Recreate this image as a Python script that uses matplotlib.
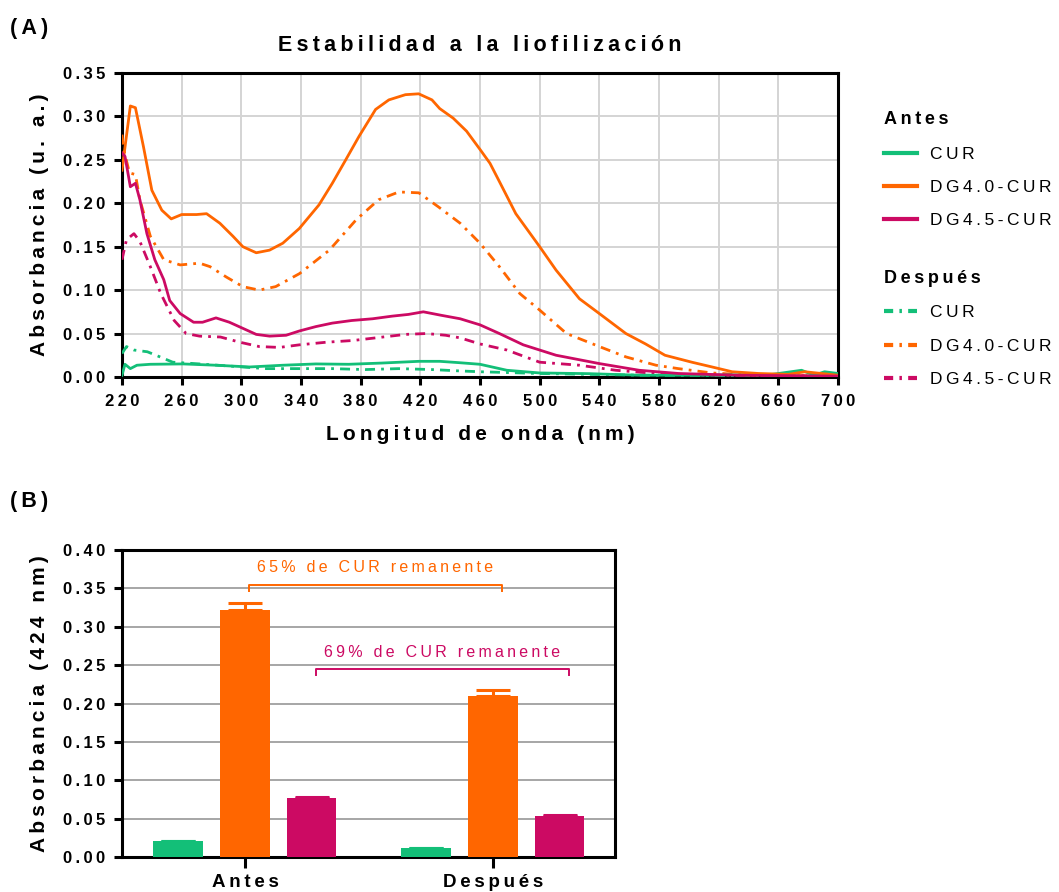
import numpy as np
import matplotlib
matplotlib.use("Agg")
import matplotlib.pyplot as plt
from matplotlib.lines import Line2D

plt.rcParams['font.family'] = ['Liberation Sans', 'DejaVu Sans']

# ---- spectra (A) ----
cur_antes_x = [220, 222, 225.6, 230, 239, 261, 283, 305.6, 327.8, 350, 372, 394, 419, 433, 445.6,
               460, 478, 500, 533, 567, 611, 656, 675.6, 684, 691, 700]
cur_antes_y = [0.002, 0.0146, 0.0096, 0.0135, 0.0146, 0.015, 0.0135, 0.0115, 0.0135, 0.015, 0.0146,
               0.016, 0.018, 0.018, 0.0165, 0.0146, 0.0077, 0.0046, 0.0038, 0.002, 0.002, 0.003,
               0.0077, 0.002, 0.006, 0.004]

dg40_antes_x = [220, 225.6, 229, 234.4, 240, 246.7, 253, 260, 270, 276.7, 285.6, 294.4, 301, 310,
                318.9, 327.8, 338.9, 352, 361, 370, 378.9, 390, 398.9, 410, 418.9, 427.8, 433,
                442, 451, 460, 466.7, 473, 484, 500, 511, 526.7, 540, 557.8, 571, 584, 602,
                615.6, 629, 646.7, 666.7, 677.8, 700]
dg40_antes_y = [0.238, 0.312, 0.310, 0.265, 0.215, 0.192, 0.182, 0.187, 0.187, 0.188, 0.177, 0.162,
                0.150, 0.143, 0.146, 0.154, 0.171, 0.198, 0.223, 0.250, 0.277, 0.308, 0.319, 0.325,
                0.326, 0.319, 0.309, 0.298, 0.283, 0.262, 0.246, 0.225, 0.188, 0.150, 0.123, 0.090,
                0.073, 0.050, 0.038, 0.025, 0.017, 0.0115, 0.006, 0.004, 0.003, 0.006, 0.002]

dg45_antes_x = [220, 222, 225.6, 229, 232, 236.7, 242, 248, 252, 259, 268, 274, 283, 292, 301, 310,
                319, 330, 339, 350, 361, 374, 388, 401, 412, 422, 434, 446.7, 460, 473, 489, 511,
                540, 566.7, 593, 633, 700]
dg45_antes_y = [0.258, 0.254, 0.219, 0.223, 0.204, 0.165, 0.135, 0.112, 0.088, 0.073, 0.063, 0.063,
                0.068, 0.063, 0.056, 0.049, 0.047, 0.048, 0.053, 0.058, 0.062, 0.065, 0.067, 0.070,
                0.072, 0.075, 0.071, 0.067, 0.060, 0.050, 0.037, 0.025, 0.0154, 0.0077, 0.004,
                0.002, 0.001]

cur_desp_x = [220, 223, 228, 237, 245.6, 254, 272, 294, 316.7, 339, 361, 383, 405.6, 428, 445.6,
              460, 500, 567, 700]
cur_desp_y = [0.027, 0.035, 0.031, 0.029, 0.023, 0.017, 0.015, 0.0123, 0.0096, 0.0096, 0.0096,
              0.0085, 0.0096, 0.0085, 0.007, 0.006, 0.004, 0.002, 0.001]

dg40_desp_x = [220, 221, 225, 229, 232, 239, 248, 259, 272, 279, 290, 301, 312, 323, 339, 359, 377,
               392, 405.6, 419, 432, 446.7, 460, 473, 486.7, 500, 518, 540, 558, 578, 593, 615.6,
               644, 700]
dg40_desp_y = [0.279, 0.263, 0.235, 0.233, 0.204, 0.162, 0.135, 0.129, 0.131, 0.127, 0.115, 0.104,
               0.100, 0.104, 0.119, 0.146, 0.181, 0.204, 0.213, 0.212, 0.196, 0.177, 0.154, 0.127,
               0.096, 0.077, 0.050, 0.035, 0.023, 0.0135, 0.0096, 0.0046, 0.002, 0.001]

dg45_desp_x = [220, 223, 228, 232, 239, 246, 255, 263, 272, 286, 299, 312, 325.6, 339, 357, 375,
               395, 410, 424, 437, 446.7, 460, 478, 500, 526.7, 551, 578, 611, 700]
dg45_desp_y = [0.135, 0.158, 0.165, 0.156, 0.127, 0.096, 0.065, 0.050, 0.047, 0.046, 0.040, 0.035,
               0.034, 0.037, 0.040, 0.042, 0.046, 0.049, 0.050, 0.048, 0.045, 0.038, 0.031, 0.017,
               0.0135, 0.0077, 0.004, 0.002, 0.001]

series_names = ["CUR", "DG4.0-CUR", "DG4.5-CUR"]
colors = ["#13BF78", "#FF6600", "#CC0A63"]

# ---- bars (B) ----
groups = ["Antes", "Después"]
bar_vals = {"CUR": [0.021, 0.012], "DG4.0-CUR": [0.322, 0.210], "DG4.5-CUR": [0.077, 0.054]}
bar_errs = {"CUR": [0.0, 0.0], "DG4.0-CUR": [0.009, 0.008], "DG4.5-CUR": [0.001, 0.001]}
notes = ["65% de CUR remanente", "69% de CUR remanente"]
note_y = [0.355, 0.245]


def sp(s):
    return "\u2009".join(s)


dashdot = (0, (3.6, 2.2, 1.0, 2.2))

fig = plt.figure(figsize=(10.59, 8.92), dpi=100)

# ===== panel A =====
ax = fig.add_axes([0.1152, 0.5774, 0.6761, 0.3408])
antes = [(cur_antes_x, cur_antes_y), (dg40_antes_x, dg40_antes_y), (dg45_antes_x, dg45_antes_y)]
desp = [(cur_desp_x, cur_desp_y), (dg40_desp_x, dg40_desp_y), (dg45_desp_x, dg45_desp_y)]
for (x, y), c in zip(desp, colors):
    ax.plot(x, y, color=c, lw=2.0, ls=dashdot, zorder=3)
for (x, y), c in zip(antes, colors):
    ax.plot(x, y, color=c, lw=2.0, zorder=4)

ax.set_xlim(220, 700)
ax.set_ylim(0, 0.35)
xt = np.arange(220, 701, 40)
yt = np.arange(0, 0.351, 0.05)
ax.set_xticks(xt)
ax.set_xticklabels([sp(str(v)) for v in xt], fontsize=12, fontweight="bold")
ax.set_yticks(yt)
ax.set_yticklabels([sp(f"{v:.2f}") for v in yt], fontsize=12, fontweight="bold")
ax.grid(True, color="#D4D4D4", lw=1.4, zorder=0)
ax.set_axisbelow(True)
for s in ax.spines.values():
    s.set_linewidth(2.2)
ax.tick_params(width=2.2, length=6, pad=6)
ax.set_xlabel(sp("Longitud de onda (nm)"), fontsize=15, fontweight="bold", labelpad=12)
ax.set_ylabel(sp("Absorbancia (u. a.)"), fontsize=15, fontweight="bold", labelpad=10)
ax.set_title(sp("Estabilidad a la liofilización"), fontsize=15.5, fontweight="bold", pad=16)

h1 = [Line2D([], [], color=c, lw=3) for c in colors]
h2 = [Line2D([], [], color=c, lw=3, ls=(0, (2.2, 1.5, 0.6, 1.5))) for c in colors]
kw = dict(frameon=False, prop={"size": 12.5}, handlelength=1.85, handletextpad=0.8,
          labelspacing=1.05, borderpad=0, alignment="left",
          title_fontproperties={"size": 13, "weight": "bold"})
leg1 = fig.legend(h1, [sp(n) for n in series_names], title=sp("Antes"), loc="upper left",
                  bbox_to_anchor=(0.827, 0.885), **kw)
leg2 = fig.legend(h2, [sp(n) for n in series_names], title=sp("Después"), loc="upper left",
                  bbox_to_anchor=(0.827, 0.707), **kw)

fig.text(0.009, 0.968, sp("(A)"), fontsize=15.5, fontweight="bold", va="center")
fig.text(0.009, 0.438, sp("(B)"), fontsize=15.5, fontweight="bold", va="center")

# ===== panel B =====
bx = fig.add_axes([0.1152, 0.0392, 0.4655, 0.3442])
pos = np.arange(len(groups))
offs = [-0.27, 0.0, 0.27]
w = 0.198
for n, c, o in zip(series_names, colors, offs):
    bx.bar(pos + o, bar_vals[n], w, color=c, zorder=3)
    bx.errorbar(pos + o, bar_vals[n], yerr=[[0] * len(groups), bar_errs[n]], fmt="none",
                ecolor=c, elinewidth=2.2, capsize=12, capthick=2.2, zorder=3)

bx.set_xlim(-0.496, 1.492)
bx.set_ylim(0, 0.40)
byt = np.arange(0, 0.401, 0.05)
bx.set_yticks(byt)
bx.set_yticklabels([sp(f"{v:.2f}") for v in byt], fontsize=12, fontweight="bold")
bx.set_xticks(pos)
bx.set_xticklabels([sp(g) for g in groups], fontsize=13.5, fontweight="bold")
bx.yaxis.grid(True, color="#A6A6A6", lw=1.4, zorder=0)
bx.set_axisbelow(True)
for s in bx.spines.values():
    s.set_linewidth(2.2)
bx.tick_params(width=2.2, length=6, pad=6)
bx.tick_params(axis="x", length=8, pad=4)
bx.set_ylabel(sp("Absorbancia (424 nm)"), fontsize=15, fontweight="bold", labelpad=10)

# brackets between before / after
for k, (txt, yy) in enumerate(zip(notes, note_y)):
    c = colors[k + 1]
    x0 = pos[0] + offs[k + 1] + 0.015
    x1 = pos[1] + offs[k + 1] + 0.035
    drop = 0.008
    bx.plot([x0, x0, x1, x1], [yy - drop, yy, yy, yy - drop], color=c, lw=1.4, zorder=4)
    bx.text((x0 + x1) / 2, yy + 0.012, sp(txt), color=c, fontsize=11.5, ha="center", va="bottom")

fig.savefig("out.png", dpi=100)
